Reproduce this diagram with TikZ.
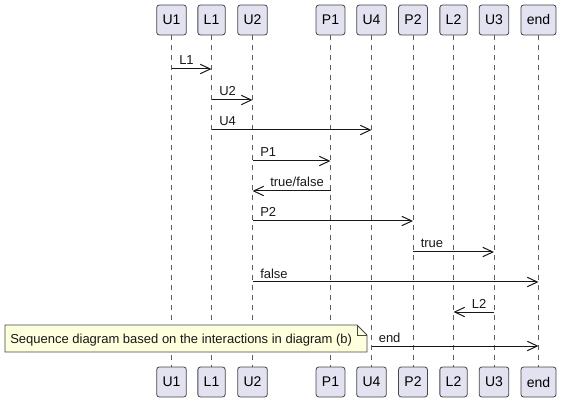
\documentclass[tikz,border=0pt]{standalone}
\usepackage{fontspec}
\setmainfont{Liberation Sans}
\usetikzlibrary{arrows.meta}
\definecolor{partfill}{RGB}{226,226,240}
\definecolor{dark}{RGB}{24,24,24}
\definecolor{notefill}{RGB}{254,255,221}
\begin{document}
\begin{tikzpicture}[x=0.75pt,y=-0.75pt,
  part/.style={draw=dark!80,fill=partfill,rounded corners=2pt,line width=0.6pt,
    minimum height=22.5pt,inner xsep=4.4pt,inner ysep=0pt,font=\fontsize{10.5}{12}\selectfont},
  life/.style={draw=dark!70,line width=0.45pt,dash pattern=on 3.75pt off 3.75pt},
  msg/.style={draw=dark,line width=0.75pt,-{Straight Barb[length=7.5pt,width=7pt,line width=0.75pt]}},
  lbl/.style={font=\fontsize{9.75}{11}\selectfont,inner sep=0pt,text=dark},
  notebox/.style={draw=dark!80,fill=notefill,line width=0.6pt}]
\useasboundingbox (0,0) rectangle (563,402);
% participants
\foreach \n/\t/\x in {u1/U1/171.5,l1/L1/211.5,u2/U2/252.5,p1/P1/330.5,u4/U4/371.5,p2/P2/413,l2/L2/453.5,u3/U3/494,en/end/538.5}{
  \draw[life] (\x,35) -- (\x,367);
  \node[part] (\n t) at (\x,20) {\t};
  \node[part] (\n b) at (\x,382) {\t};
}
% message coordinates
\coordinate (a1) at (171.5,69);  \coordinate (b1) at (211.5,69);
\coordinate (a2) at (211.5,100); \coordinate (b2) at (252.5,100);
\coordinate (a3) at (211.5,130); \coordinate (b3) at (371.5,130);
\coordinate (a4) at (252.5,161); \coordinate (b4) at (330.5,161);
\coordinate (a5) at (330.5,191); \coordinate (b5) at (252.5,191);
\coordinate (a6) at (252.5,221); \coordinate (b6) at (413,221);
\coordinate (a7) at (413,252);   \coordinate (b7) at (494,252);
\coordinate (a8) at (252.5,282); \coordinate (b8) at (538.5,282);
\coordinate (a9) at (494,312);   \coordinate (b9) at (453.5,312);
\coordinate (a10) at (371.5,346); \coordinate (b10) at (538.5,346);
\draw[msg] (a1) -- (b1);
\draw[msg] (a2) -- (b2);
\draw[msg] (a3) -- (b3);
\draw[msg] (a4) -- (b4);
\draw[msg] (a5) -- (b5);
\draw[msg] (a6) -- (b6);
\draw[msg] (a7) -- (b7);
\draw[msg] (a8) -- (b8);
\draw[msg] (a9) -- (b9);
\draw[msg] (a10) -- (b10);
\node[lbl,anchor=base west] (t1) at (179,65) {L1};
\node[lbl,anchor=base west] (t2) at (219,96) {U2};
\node[lbl,anchor=base west] (t3) at (219,126) {U4};
\node[lbl,anchor=base west] (t4) at (260,157) {P1};
\node[lbl,anchor=base west] (t5) at (270,187) {true/false};
\node[lbl,anchor=base west] (t6) at (260,217) {P2};
\node[lbl,anchor=base west] (t7) at (420.5,248) {true};
\node[lbl,anchor=base west] (t8) at (260,278) {false};
\node[lbl,anchor=base west] (t9) at (471.5,308) {L2};
\node[lbl,anchor=base west] (t10) at (378.5,342) {end};
% note
\draw[notebox] (5,325) -- (357,325) -- (367,335) -- (367,352) -- (5,352) -- cycle;
\draw[notebox,fill=none] (357,325) -- (357,335) -- (367,335);
\node[lbl,anchor=base west] (nt) at (10,343.5) {Sequence diagram based on the interactions in diagram (b)};
\end{tikzpicture}
\end{document}
